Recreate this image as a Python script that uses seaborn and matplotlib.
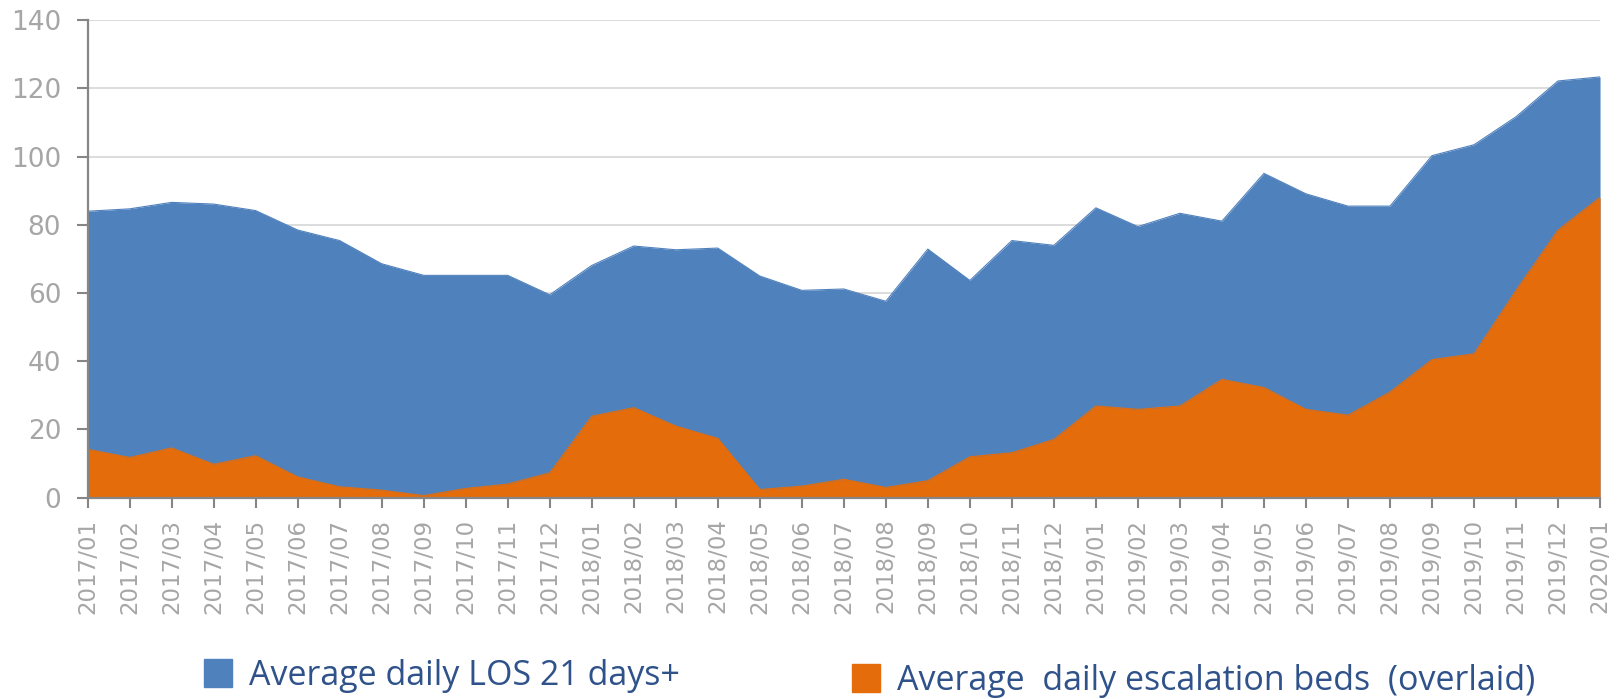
import matplotlib

matplotlib.use("Agg")
import matplotlib.patches as mpatches
import matplotlib.pyplot as plt
import pandas as pd
import seaborn as sns

# Month labels (x axis categories)
months = [
    "2017/01", "2017/02", "2017/03", "2017/04", "2017/05", "2017/06",
    "2017/07", "2017/08", "2017/09", "2017/10", "2017/11", "2017/12",
    "2018/01", "2018/02", "2018/03", "2018/04", "2018/05", "2018/06",
    "2018/07", "2018/08", "2018/09", "2018/10", "2018/11", "2018/12",
    "2019/01", "2019/02", "2019/03", "2019/04", "2019/05", "2019/06",
    "2019/07", "2019/08", "2019/09", "2019/10", "2019/11", "2019/12",
    "2020/01",
]

# Average daily LOS 21 days+ (blue area)
los_21_plus = [
    84.0, 84.7, 86.6, 86.1, 84.2, 78.5, 75.4, 68.6, 65.2, 65.2, 65.2, 59.5,
    68.1, 73.8, 72.7, 73.2, 65.0, 60.8, 61.2, 57.6, 72.9, 63.7, 75.4, 74.0,
    85.0, 79.5, 83.4, 81.1, 95.1, 89.1, 85.5, 85.5, 100.3, 103.5, 111.7, 122.2,
    123.4,
]

# Average daily escalation beds (orange area, overlaid)
escalation_beds = [
    14.2, 11.8, 14.6, 9.8, 12.3, 6.1, 3.2, 2.2, 0.6, 2.7, 4.0, 7.3,
    23.9, 26.4, 21.0, 17.4, 2.4, 3.4, 5.4, 3.0, 5.0, 12.0, 13.2, 17.1,
    26.9, 25.9, 26.9, 34.7, 32.3, 25.9, 24.2, 31.0, 40.5, 42.2, 60.8, 78.5,
    88.1,
]

y_ticks = [0, 20, 40, 60, 80, 100, 120, 140]

BLUE = "#4F81BD"
ORANGE = "#E46C0A"
TICK_GREY = "#A6A6A6"
AXIS_GREY = "#868686"
LEGEND_TEXT = "#30528A"

sns.set_theme(style="white")
plt.rcParams["font.family"] = ["DejaVu Sans"]

df = pd.DataFrame(
    {"month": months, "los": los_21_plus, "escalation": escalation_beds}
)
df["pos"] = range(len(df))

fig = plt.figure(figsize=(16.18, 6.99), dpi=100)
ax = fig.add_axes([0.0541, 0.288, 0.9348, 0.683])

# Blue area first, orange overlaid on top
ax.fill_between(df["pos"], 0, df["los"], color=BLUE, linewidth=0, zorder=2)
sns.lineplot(data=df, x="pos", y="los", color=BLUE, linewidth=0.8, ax=ax, zorder=2)
ax.fill_between(df["pos"], 0, df["escalation"], color=ORANGE, linewidth=0, zorder=3)
sns.lineplot(data=df, x="pos", y="escalation", color=ORANGE, linewidth=0.8, ax=ax, zorder=3)

ax.set_xlim(0, len(months) - 1)
ax.set_ylim(0, 140)
ax.set_xlabel("")
ax.set_ylabel("")

ax.set_yticks(y_ticks)
ax.set_xticks(df["pos"])
ax.set_xticklabels(months, rotation=90)

ax.yaxis.grid(True, color="#D9D9D9", linewidth=1.3)
ax.xaxis.grid(False)
ax.set_axisbelow(True)

for side in ["top", "right"]:
    ax.spines[side].set_visible(False)
for side in ["left", "bottom"]:
    ax.spines[side].set_color(AXIS_GREY)
    ax.spines[side].set_linewidth(1.6)
    ax.spines[side].set_zorder(4)

ax.tick_params(axis="y", length=8, width=1.5, color=AXIS_GREY, pad=11,
               labelsize=19, labelcolor=TICK_GREY, left=True)
ax.tick_params(axis="x", length=7, width=1.5, color=AXIS_GREY, pad=8,
               labelsize=16.5, labelcolor=TICK_GREY, bottom=True)

# Legend: two separate entries, like the original
blue_patch = mpatches.Patch(color=BLUE, label="Average daily LOS 21 days+")
orange_patch = mpatches.Patch(
    color=ORANGE, label="Average  daily escalation beds  (overlaid)"
)
legend_kw = dict(
    frameon=False,
    prop={"family": "Open Sans", "size": 24.5},
    handlelength=0.82,
    handleheight=0.9,
    handletextpad=0.5,
    borderpad=0,
    borderaxespad=0,
    labelcolor=LEGEND_TEXT,
)
fig.legend(handles=[blue_patch], loc="lower left",
           bbox_to_anchor=(204 / 1618, 1 - 693 / 699), **legend_kw)
fig.legend(handles=[orange_patch], loc="lower left",
           bbox_to_anchor=(852 / 1618, 1 - 698 / 699), **legend_kw)

fig.savefig("out.png", dpi=100)
